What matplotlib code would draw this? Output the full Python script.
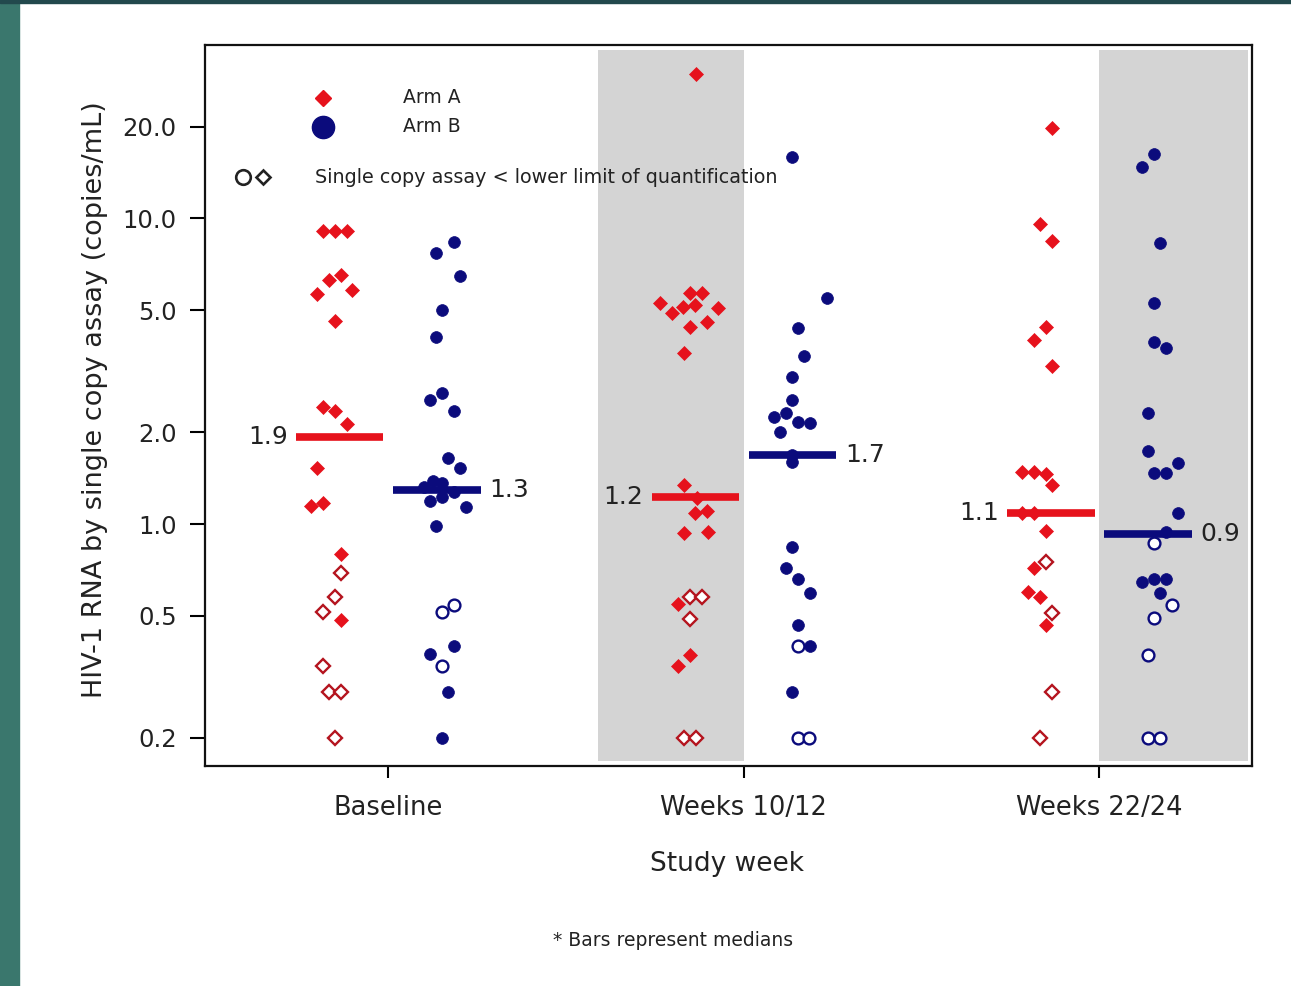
import matplotlib
matplotlib.use("Agg")
import matplotlib.pyplot as plt
import numpy as np
from matplotlib.patches import Rectangle

# ---------------- data ----------------
groups = ["Baseline", "Weeks 10/12", "Weeks 22/24"]
median_a = [1.93, 1.23, 1.09]
median_b = [1.29, 1.68, 0.93]
median_a_lbl = ["1.9", "1.2", "1.1"]
median_b_lbl = ["1.3", "1.7", "0.9"]

base_a_vals = [9.1, 9.1, 9.1, 6.53, 6.29, 5.83, 5.66, 4.62, 2.42, 2.34, 2.12, 1.52, 1.17, 1.145,
               0.80, 0.69, 0.577, 0.515, 0.485, 0.343, 0.282, 0.282, 0.2]
base_a_blq = [0, 0, 0, 0, 0, 0, 0, 0, 0, 0, 0, 0, 0, 0, 0, 1, 1, 1, 0, 1, 1, 1, 1]
base_a_slot = [-1, 0, 1, 0.5, -0.5, 1.4, -1.5, 0, -1, 0, 1, -1.5, -1, -2, 0.5, 0.5, 0, -1, 0.5, -1, -0.5, 0.5, 0]

base_b_vals = [8.38, 7.71, 6.48, 5.01, 4.09, 2.68, 2.55, 2.34, 1.64, 1.52, 1.38, 1.36, 1.32, 1.27,
               1.23, 1.19, 1.14, 0.985, 0.543, 0.515, 0.399, 0.375, 0.343, 0.282, 0.2]
base_b_blq = [0] * 18 + [1, 1, 0, 0, 1, 0, 0]
base_b_slot = [1, -0.5, 1.5, 0, -0.5, 0, -1, 1, 0.5, 1.5, -0.8, 0, -1.5, 1, 0, -1, 2, -0.5,
               1, 0, 1, -1, 0, 0.5, 0]

w10_a_vals = [29.7, 5.70, 5.70, 5.29, 5.21, 5.13, 5.09, 4.91, 4.59, 4.41, 3.63, 1.34, 1.22, 1.10,
              1.086, 0.94, 0.935, 0.577, 0.577, 0.547, 0.489, 0.373, 0.343, 0.2, 0.2]
w10_a_blq = [0] * 17 + [1, 1, 0, 1, 0, 0, 1, 1]
w10_a_slot = [0.5, 0, 1, -2.5, 0.4, -0.6, 2.3, -1.5, 1.4, 0, -0.5, -0.5, 0.6, 1.4, 0.4, 1.5, -0.5,
              0, 1, -1, 0, 0, -1, -0.5, 0.5]

w10_b_vals = [15.9, 5.49, 4.38, 3.55, 3.03, 2.55, 2.31, 2.24, 2.16, 2.14, 2.0, 1.68, 1.60, 0.841,
              0.718, 0.66, 0.594, 0.467, 0.399, 0.399, 0.282, 0.2, 0.2]
w10_b_blq = [0] * 18 + [1, 0, 0, 1, 1]
w10_b_slot = [-0.5, 2.4, 0, 0.5, -0.5, -0.5, -1, -2, 0, 1, -1.5, -0.5, -0.5, -0.5, -1, 0, 1, 0,
              0, 1, -0.5, 0, 0.9]

w22_a_vals = [19.8, 9.6, 8.44, 4.41, 4.0, 3.29, 1.48, 1.48, 1.46, 1.34, 1.086, 1.086, 0.949, 0.75,
              0.718, 0.599, 0.577, 0.511, 0.467, 0.282, 0.2]
w22_a_blq = [0] * 13 + [1, 0, 0, 0, 1, 0, 1, 1]
w22_a_slot = [0.5, -0.5, 0.5, 0, -1, 0.5, -2, -1, 0, 0.5, -2, -1, 0, 0, -1, -1.5, -0.5, 0.5, 0, 0.5, -0.5]

w22_b_vals = [16.3, 14.7, 8.31, 5.29, 3.94, 3.77, 2.31, 1.73, 1.58, 1.47, 1.47, 1.086, 0.94, 0.867,
              0.66, 0.66, 0.646, 0.594, 0.543, 0.492, 0.373, 0.2, 0.2]
w22_b_blq = [0] * 13 + [1, 0, 0, 0, 0, 1, 1, 1, 1, 1]
w22_b_slot = [0, -1, 0.5, 0, 0, 1, -0.5, -0.5, 2, 0, 1, 2, 1, 0, 0, 1, -1, 0.5, 1.5, 0, -0.5, -0.5, 0.5]

yticks = [0.2, 0.5, 1.0, 2.0, 5.0, 10.0, 20.0]
ytick_labels = ["0.2", "0.5", "1.0", "2.0", "5.0", "10.0", "20.0"]

arm_a = [(base_a_vals, base_a_blq, base_a_slot), (w10_a_vals, w10_a_blq, w10_a_slot),
         (w22_a_vals, w22_a_blq, w22_a_slot)]
arm_b = [(base_b_vals, base_b_blq, base_b_slot), (w10_b_vals, w10_b_blq, w10_b_slot),
         (w22_b_vals, w22_b_blq, w22_b_slot)]

# ---------------- style ----------------
RED = "#e6121c"
RED_EDGE = "#b4141e"
NAVY = "#0b0b7c"
TXT = "#222222"
W, H = 1291, 986
plt.rcParams["font.family"] = ["DejaVu Sans"]

fig = plt.figure(figsize=(W / 100, H / 100), dpi=100)
fig.patch.set_facecolor("white")
fig.add_artist(Rectangle((0, 0), 19 / W, 1, transform=fig.transFigure, color="#3a776d", zorder=0))
fig.add_artist(Rectangle((0, 1 - 3 / H), 1, 3 / H, transform=fig.transFigure, color="#22494d", zorder=0))

ax = fig.add_axes([205 / W, 1 - 766 / H, (1252 - 205) / W, (766 - 45) / H])
ax.set_yscale("log")
ax.set_ylim(0.1614, 36.97)
ax.set_xlim(0.485, 3.430)

px = 1 / 355.5          # one pixel in x data units
slot = 12 * px
off_a, off_b = -0.150, 0.153
bar_a, bar_b, bar_half = -0.136, 0.137, 0.123

# shaded panels
ax.axvspan(2 - 146 * px, 2.0, ymin=0.007, ymax=0.993, color="#d4d4d4", zorder=0, lw=0)
ax.axvspan(3.0, 3 + 149 * px, ymin=0.007, ymax=0.993, color="#d4d4d4", zorder=0, lw=0)

for i in range(3):
    xc = i + 1
    vals, blq, sl = arm_a[i]
    for v, b, s in zip(vals, blq, sl):
        x = xc + off_a + s * slot
        if b:
            ax.plot(x, v, marker="D", ms=7.2, mfc="white", mec=RED_EDGE, mew=1.7, zorder=3, ls="none")
        else:
            ax.plot(x, v, marker="D", ms=7.2, mfc=RED, mec=RED, mew=0.5, zorder=3, ls="none")
    vals, blq, sl = arm_b[i]
    for v, b, s in zip(vals, blq, sl):
        x = xc + off_b + s * slot
        if b:
            ax.plot(x, v, marker="o", ms=8.5, mfc="white", mec=NAVY, mew=1.7, zorder=3, ls="none")
        else:
            ax.plot(x, v, marker="o", ms=8.5, mfc=NAVY, mec=NAVY, mew=0.5, zorder=3, ls="none")

    # median bars
    ax.hlines(median_a[i], xc + bar_a - bar_half, xc + bar_a + bar_half, color=RED, lw=5.5, zorder=4)
    ax.hlines(median_b[i], xc + bar_b - bar_half, xc + bar_b + bar_half, color=NAVY, lw=5.5, zorder=4)
    ax.text(xc + bar_a - bar_half - 8 * px, median_a[i], median_a_lbl[i], ha="right", va="center",
            fontsize=18, color=TXT, zorder=5)
    ax.text(xc + bar_b + bar_half + 9 * px, median_b[i], median_b_lbl[i], ha="left", va="center",
            fontsize=18, color=TXT, zorder=5)

# axes styling
for sp in ax.spines.values():
    sp.set_linewidth(1.6)
    sp.set_color("#111111")
ax.set_yticks(yticks)
ax.set_yticklabels(ytick_labels)
ax.yaxis.set_minor_locator(matplotlib.ticker.NullLocator())
ax.set_xticks([1, 2, 3])
ax.set_xticklabels(groups)
ax.tick_params(axis="y", direction="out", length=10.8, width=1.5, pad=9.5, labelsize=17.5,
               labelcolor=TXT)
ax.tick_params(axis="x", direction="out", length=8.6, width=1.5, pad=12, labelsize=18.5,
               labelcolor=TXT)

# legend (drawn manually)
ax.plot(0.1127, 0.9265, marker="D", ms=8, mfc=RED, mec=RED, transform=ax.transAxes, clip_on=False)
ax.plot(0.1127, 0.8863, marker="o", ms=16, mfc=NAVY, mec=NAVY, transform=ax.transAxes, clip_on=False)
ax.text(0.189, 0.9265, "Arm A", transform=ax.transAxes, ha="left", va="center", fontsize=13.5, color=TXT)
ax.text(0.189, 0.8863, "Arm B", transform=ax.transAxes, ha="left", va="center", fontsize=13.5, color=TXT)
ax.plot(0.0363, 0.8169, marker="o", ms=10.5, mfc="white", mec="#222222", mew=1.9, transform=ax.transAxes)
ax.plot(0.0554, 0.8169, marker="D", ms=7.5, mfc="white", mec="#222222", mew=1.9, transform=ax.transAxes)
ax.text(0.105, 0.8169, "Single copy assay < lower limit of quantification", transform=ax.transAxes,
        ha="left", va="center", fontsize=13.8, color=TXT)

fig.text(95 / W, 1 - 400 / H, "HIV-1 RNA by single copy assay (copies/mL)", rotation=90,
         ha="center", va="center", fontsize=19.5, color=TXT)
fig.text(727 / W, 1 - 864 / H, "Study week", ha="center", va="center", fontsize=19, color=TXT)
fig.text(673 / W, 1 - 941 / H, "* Bars represent medians", ha="center", va="center", fontsize=13.5,
         color=TXT)

fig.savefig("out.png", dpi=100, facecolor=fig.get_facecolor())
